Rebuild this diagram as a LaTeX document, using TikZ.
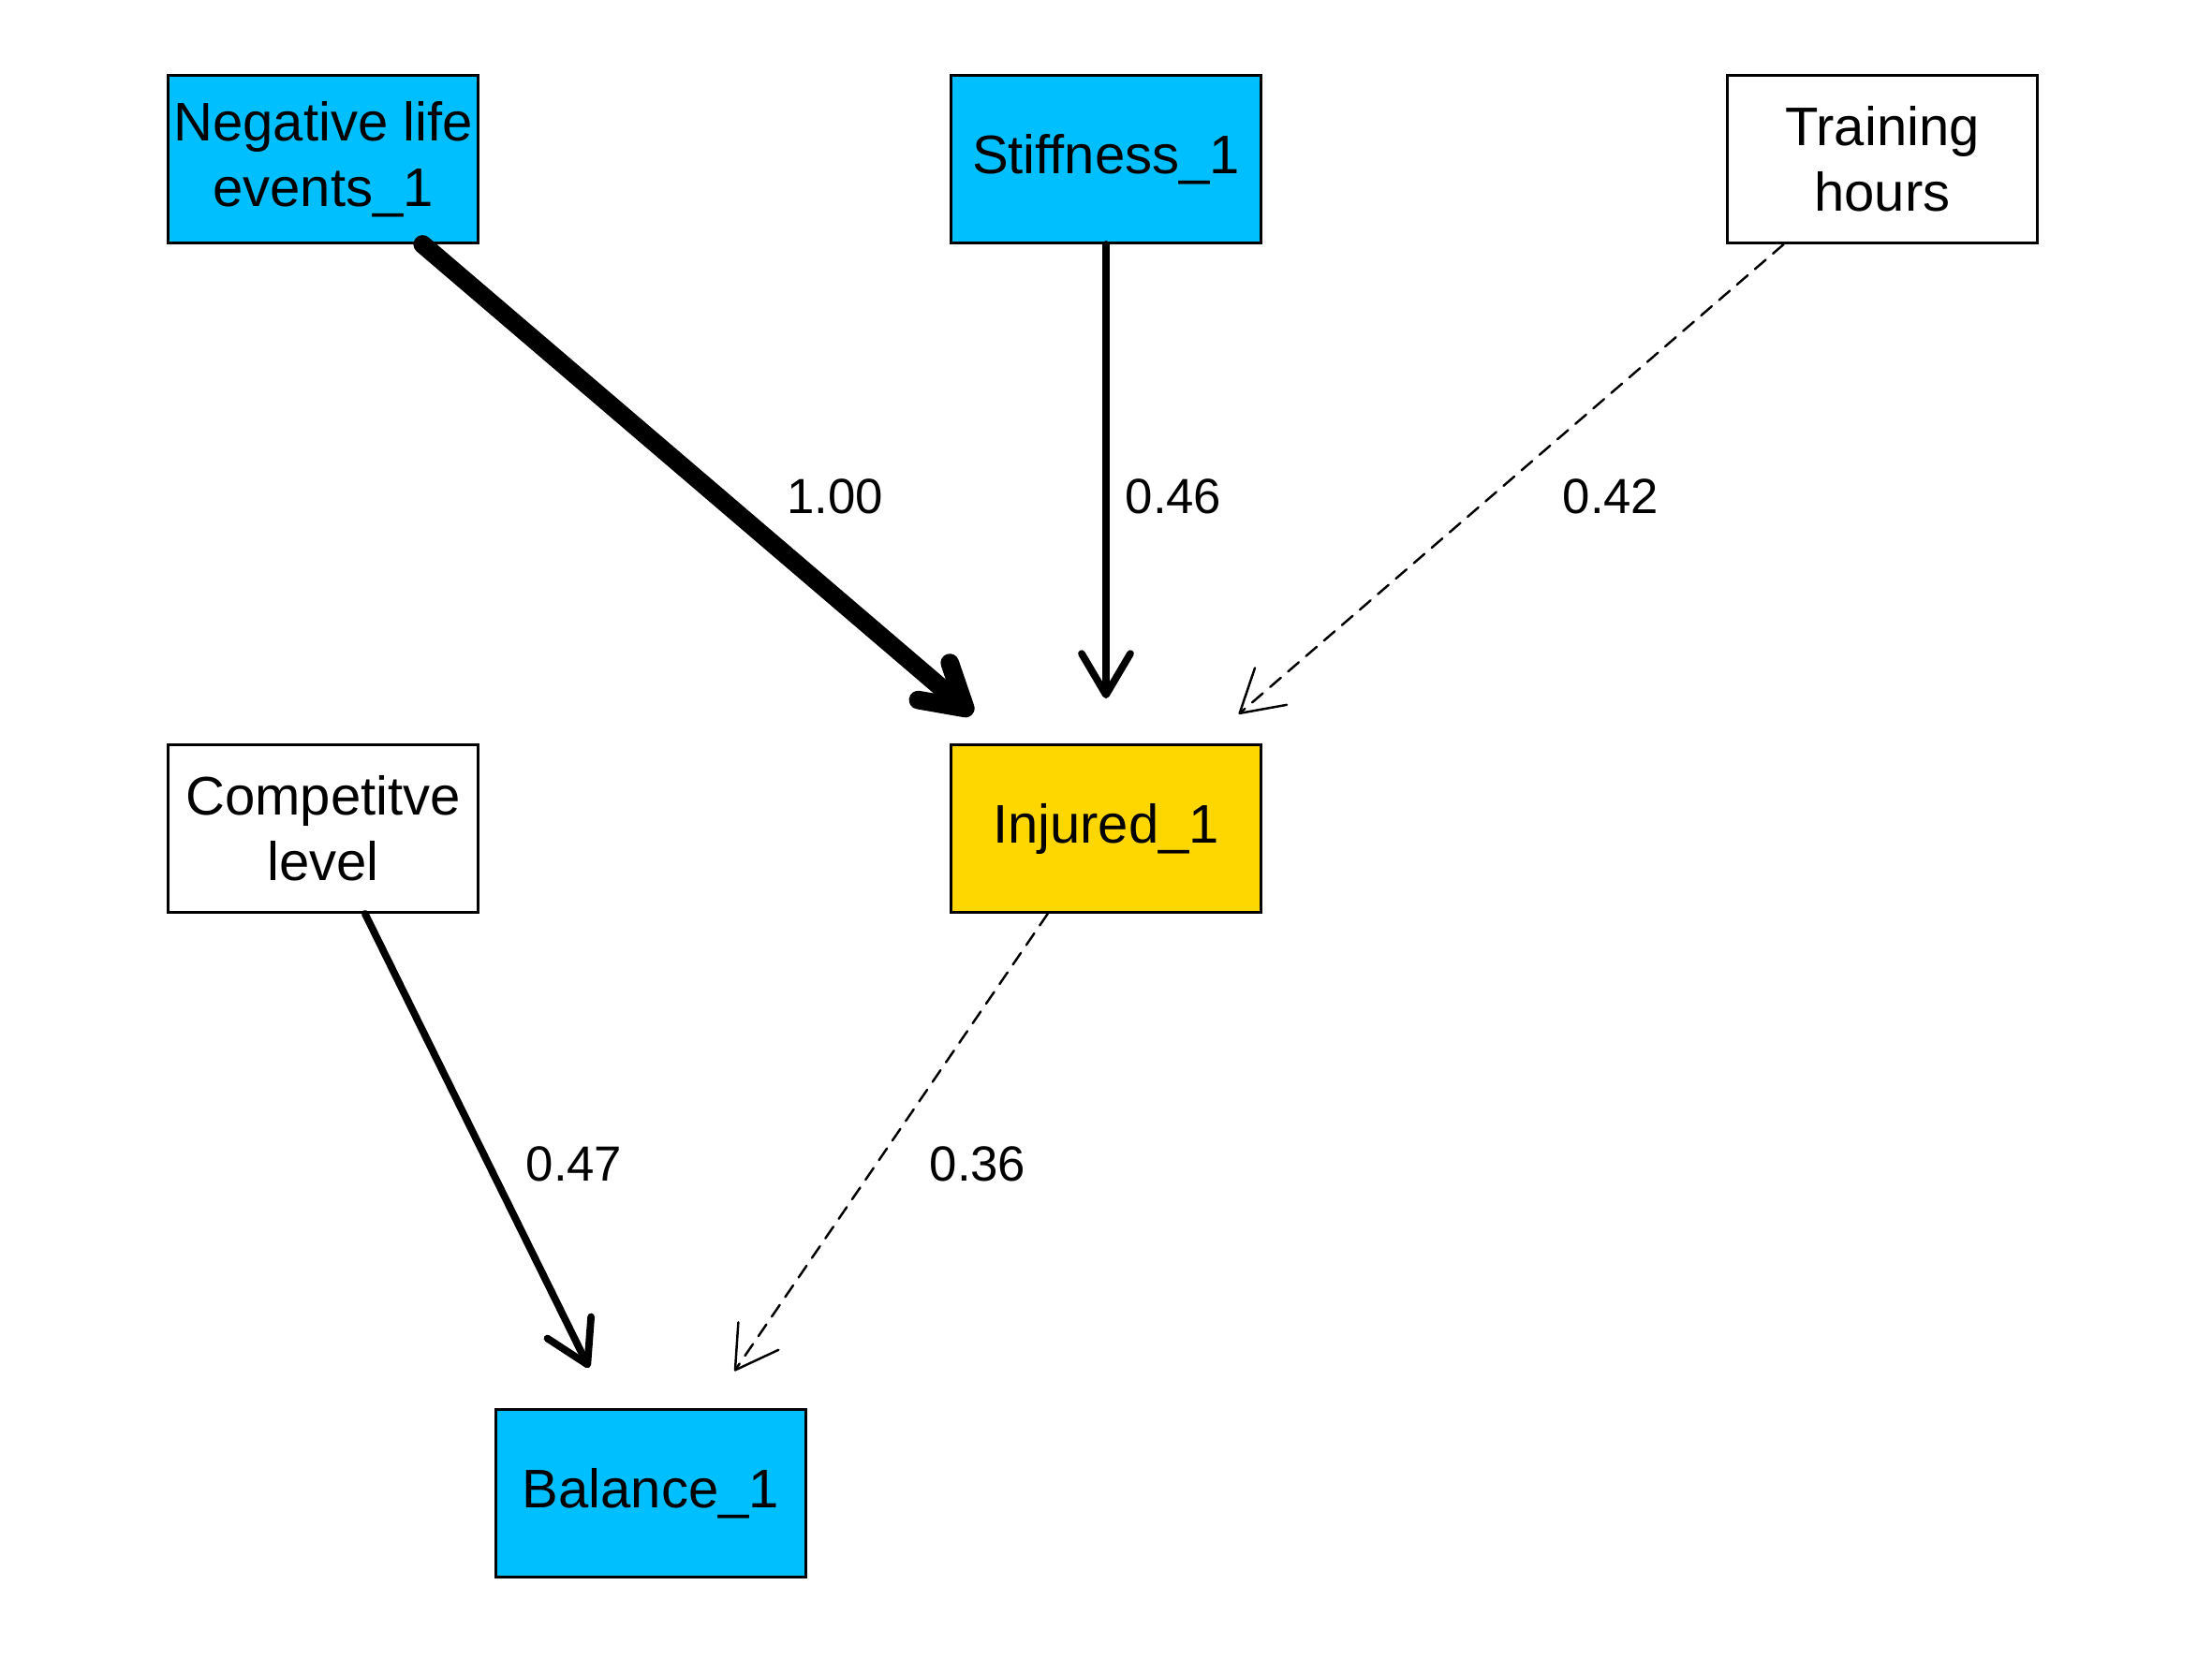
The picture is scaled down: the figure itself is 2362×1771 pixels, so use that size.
\documentclass[tikz,border=0pt]{standalone}
\usepackage{fontspec}
\setmainfont{Liberation Sans}
\usetikzlibrary{arrows.meta}
\definecolor{skyb}{HTML}{00BFFF}
\definecolor{goldy}{HTML}{FFD700}
\begin{document}
\begin{tikzpicture}[x=0.01cm,y=-0.01cm,
 box/.style={draw=black, line width=0.8pt, minimum width=3.31cm, minimum height=1.79cm, inner sep=0pt, align=center, font=\fontsize{16.5}{20}\selectfont},
 edge/.style={line cap=round, shorten >=0.48cm, -{Straight Barb[length=0.44cm,width=0.52cm,round]}},
 dashedge/.style={edge, line width=0.7pt, dash pattern=on 4.3pt off 2.9pt},
 wlab/.style={font=\fontsize{15}{18}\selectfont}]
\useasboundingbox (0,0) rectangle (2362,1771);
\node[box, fill=skyb] (neg) at (345,170) {Negative life\\events\_1};
\node[box, fill=skyb] (stiff) at (1181,170) {Stiffness\_1};
\node[box, fill=white] (train) at (2010,170) {Training\\hours};
\node[box, fill=white] (comp) at (345,885) {Competitve\\level};
\node[box, fill=goldy] (inj) at (1181,885) {Injured\_1};
\node[box, fill=skyb] (bal) at (695,1595) {Balance\_1};

\draw[edge, line width=5.6pt] (neg) -- (inj);
\draw[edge, line width=2.2pt] (stiff) -- (inj);
\draw[dashedge] (train) -- (inj);
\draw[edge, line width=2.2pt] (comp) -- (bal);
\draw[dashedge] (inj) -- (bal);

\node[wlab] (l1) at (892,530) {1.00};
\node[wlab] (l2) at (1253,530) {0.46};
\node[wlab] (l3) at (1720,530) {0.42};
\node[wlab] (l4) at (613,1243) {0.47};
\node[wlab] (l5) at (1044,1243) {0.36};
\end{tikzpicture}
\end{document}
